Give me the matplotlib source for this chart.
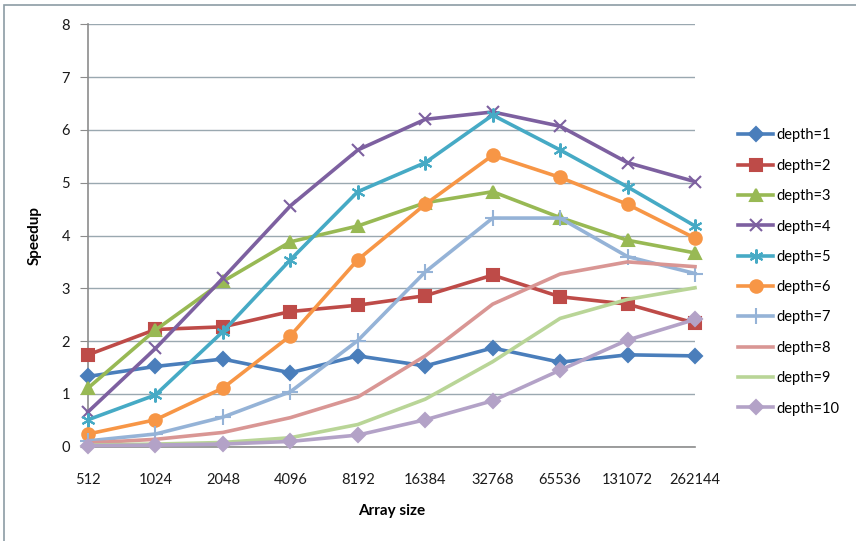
import matplotlib
matplotlib.use("Agg")
import matplotlib.pyplot as plt
from matplotlib.patches import Rectangle

plt.rcParams['font.family'] = ['Lato', 'DejaVu Sans']

sizes = ["512", "1024", "2048", "4096", "8192", "16384", "32768", "65536", "131072", "262144"]

depth1 = [1.33, 1.52, 1.66, 1.40, 1.72, 1.53, 1.87, 1.60, 1.74, 1.72]
depth2 = [1.74, 2.22, 2.27, 2.56, 2.68, 2.86, 3.25, 2.84, 2.70, 2.34]
depth3 = [1.11, 2.21, 3.13, 3.88, 4.18, 4.62, 4.83, 4.34, 3.91, 3.67]
depth4 = [0.66, 1.86, 3.19, 4.56, 5.62, 6.20, 6.34, 6.07, 5.38, 5.02]
depth5 = [0.51, 0.98, 2.18, 3.54, 4.83, 5.38, 6.28, 5.62, 4.92, 4.18]
depth6 = [0.24, 0.51, 1.11, 2.10, 3.54, 4.59, 5.52, 5.10, 4.59, 3.95]
depth7 = [0.11, 0.24, 0.56, 1.04, 2.01, 3.31, 4.33, 4.33, 3.60, 3.28]
depth8 = [0.07, 0.14, 0.27, 0.55, 0.94, 1.72, 2.70, 3.27, 3.50, 3.41]
depth9 = [0.03, 0.05, 0.08, 0.17, 0.42, 0.90, 1.61, 2.43, 2.79, 3.01]
depth10 = [0.02, 0.03, 0.05, 0.10, 0.22, 0.51, 0.87, 1.45, 2.02, 2.41]

series = [depth1, depth2, depth3, depth4, depth5, depth6, depth7, depth8, depth9, depth10]
labels = ["depth=%d" % i for i in range(1, 11)]
colors = ["#4A7EBB", "#BE4B48", "#98B954", "#7D60A0", "#46AAC5", "#F79646",
          "#95B3D7", "#D99694", "#B9D597", "#B3A2C7"]
markers = ["D", "s", "^", "x", (6, 2, 0), "o", "+", None, None, "D"]
msizes = [7, 8, 8, 9, 10, 9, 11, 0, 0, 7]

fig = plt.figure(figsize=(8.56, 5.41), dpi=100)
ax = fig.add_axes([88/856, 1-446.7/541, (695-88)/856, (446.7-24.3)/541])

x = list(range(len(sizes)))
for s, lab, c, m, ms in zip(series, labels, colors, markers, msizes):
    kw = dict(color=c, linewidth=2.6, label=lab, solid_joinstyle='round', clip_on=False, zorder=3)
    if m is not None:
        kw.update(marker=m, markersize=ms, markeredgecolor=c, markerfacecolor=c, markeredgewidth=1.5)
    ax.plot(x, s, **kw)

ax.set_xlim(0, len(sizes) - 1)
ax.set_ylim(0, 8)
ax.set_yticks(range(0, 9))
ax.set_xticks(x)
ax.set_xticklabels(sizes)
ax.grid(axis='y', color='#9AA8B0', linewidth=1.0)
ax.set_axisbelow(True)
for sp in ['top', 'right']:
    ax.spines[sp].set_visible(False)
for sp in ['left', 'bottom']:
    ax.spines[sp].set_color('#8C8C8C')
    ax.spines[sp].set_linewidth(1.2)
ax.tick_params(axis='y', length=6, color='#8C8C8C', labelsize=10.5, pad=7, labelcolor='#1a1a1a')
ax.tick_params(axis='x', length=0, labelsize=10.5, pad=19, labelcolor='#1a1a1a')

ax.set_ylabel("Speedup", fontsize=11, fontweight='bold', labelpad=14)
ax.set_xlabel("Array size", fontsize=11, fontweight='bold', labelpad=12)

leg = ax.legend(loc='center left', bbox_to_anchor=(738/856, 1 - 272/541), bbox_transform=fig.transFigure,
                frameon=False, fontsize=10.5, handlelength=2.4, labelspacing=1.12, handletextpad=0.25,
                borderaxespad=0, borderpad=0)

fig.patches.append(Rectangle((4/856, -0.05), 1.2, 1 - 5/541 + 0.05, transform=fig.transFigure,
                             fill=False, edgecolor='#8C9CA4', linewidth=1.2))

fig.savefig("out.png", dpi=100)
